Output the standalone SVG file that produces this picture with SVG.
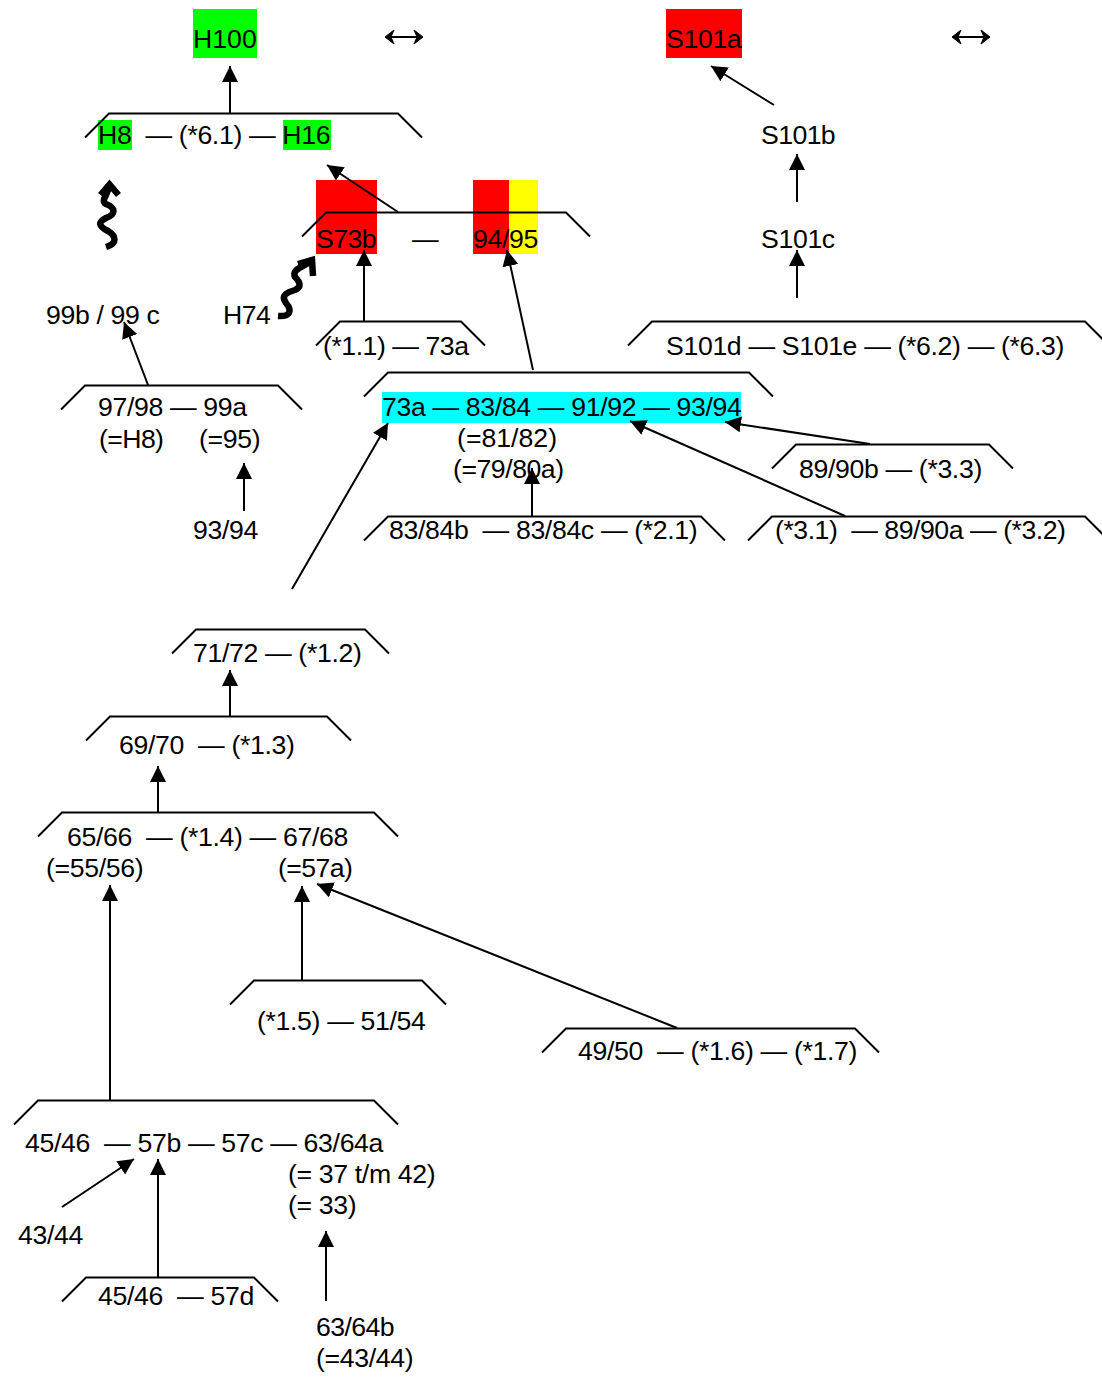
<svg xmlns="http://www.w3.org/2000/svg" width="1102" height="1380" viewBox="0 0 1102 1380">
<style>
text{font-family:"Liberation Sans",Arial,sans-serif;font-size:26.67px;fill:#000;white-space:pre;letter-spacing:-.35px}
.n{letter-spacing:0}
.s{letter-spacing:-.6px}
.m{letter-spacing:-.47px}
.t{fill:none;stroke:#000;stroke-width:2;transform:translate(0,.5px)}
.a{fill:none;stroke:#000;stroke-width:2;marker-end:url(#h)}
.d{fill:none;stroke:#000;stroke-width:2}
.b{fill:#000;stroke:#000;stroke-width:1;stroke-linejoin:round}
.w{fill:none;stroke:#000;stroke-width:6.500}
</style>
<defs>
<marker id="h" markerUnits="userSpaceOnUse" markerWidth="18" markerHeight="18" refX="16" refY="8" orient="auto"><path d="M0 0L16 8L0 16Z" fill="#000"/></marker>
</defs>
<rect width="1102" height="1380" fill="#fff"/>
<g id="fills">
<rect x="193" y="9" width="64" height="49" fill="#0f0"/>
<rect x="666" y="9" width="76" height="49" fill="#f00"/>
<rect x="98" y="120" width="34" height="30" fill="#0f0"/>
<rect x="283" y="120" width="48" height="30" fill="#0f0"/>
<rect x="316" y="180" width="61" height="74" fill="#f00"/>
<rect x="473" y="180" width="36" height="74" fill="#f00"/>
<rect x="509" y="180" width="29" height="74" fill="#ff0"/>
<rect x="382" y="392" width="359" height="31" fill="#0ff"/>
</g>
<g id="connectors">
<path class="a" d="M230 113L230 66"/>
<path class="a" d="M774 105L711 66"/>
<path class="a" d="M797 202L797 154"/>
<path class="a" d="M797 298L797 250"/>
<path class="a" d="M398 212L327 165"/>
<path class="a" d="M364 321L364 250"/>
<path class="a" d="M533 370L507 250"/>
<path class="a" d="M148 385L124 322"/>
<path class="a" d="M244 511L244 463"/>
<path class="a" d="M870 444L725 422"/>
<path class="a" d="M845 516L630 421"/>
<path class="a" d="M532 516L532 468"/>
<path class="a" d="M292 589L388 423"/>
<path class="a" d="M230 716L230 670"/>
<path class="a" d="M158 812L158 766"/>
<path class="a" d="M110 1100L110 885"/>
<path class="a" d="M302 980L302 886"/>
<path class="a" d="M677 1028L317 884"/>
<path class="a" d="M158 1277L158 1159"/>
<path class="a" d="M62 1207L134 1159"/>
<path class="a" d="M326 1301L326 1231"/>
<path class="d" d="M388 37H420"/>
<path class="b" d="M385 37L394 30L391 37L394 44Z"/>
<path class="b" d="M423 37L414 30L417 37L414 44Z"/>
<path class="d" d="M955 37H987"/>
<path class="b" d="M952 37L961 30L958 37L961 44Z"/>
<path class="b" d="M990 37L981 30L984 37L981 44Z"/>
<path class="w" d="M106 247C118 243 116 236 108 231C98 226 98 222 106 218C116 214 116 208 106 204C100 200 108 196 109 186"/>
<path class="w" d="M100.500 195L109.500 184.500L118.500 195"/>
<path class="w" d="M278 316C291 317 292 310 286 303C280 295 288 292 295 290C302 287 300 282 295 277C292 270 300 268 310 262"/>
<path class="w" d="M298 264L312 260L313 276"/>
</g>
<g id="n-h100"><text class="n" x="193" y="48">H100</text></g>
<g id="n-s101a"><text x="666" y="48">S101a</text></g>
<g id="n-h8"><polyline class="t" points="85,137 109,113 398,113 422,137"/><text x="98" y="144">H8  — (*6.1) — H16</text></g>
<g id="n-s101b"><text class="s" x="761" y="144">S101b</text></g>
<g id="n-s73b"><polyline class="t" points="302,236 326,212 566,212 590,236"/><text class="s" x="316" y="248">S73b</text><text x="412" y="248">—</text><text x="473" y="248">94/95</text></g>
<g id="n-s101c"><text x="761" y="248">S101c</text></g>
<g id="n-99b"><text x="46" y="324">99b / 99 c</text></g>
<g id="n-h74"><text class="s" x="223" y="324">H74</text></g>
<g id="n-11"><polyline class="t" points="316,345 340,321 461,321 485,345"/><text class="m" x="323" y="355">(*1.1) — 73a</text></g>
<g id="n-s101d"><polyline class="t" points="628,345 652,321 1085,321 1109,345"/><text x="666" y="355">S101d — S101e — (*6.2) — (*6.3)</text></g>
<g id="n-97"><polyline class="t" points="61,409 85,385 278,385 302,409"/><text x="98" y="416">97/98 — 99a</text><text class="s" x="99" y="448">(=H8)</text><text x="199" y="448">(=95)</text></g>
<g id="n-73a"><polyline class="t" points="364,396 388,372 749,372 773,396"/><text x="382" y="416">73a — 83/84 — 91/92 — 93/94</text><text class="n" x="457" y="447">(=81/82)</text><text class="m" x="453" y="478">(=79/80a)</text></g>
<g id="n-89b"><polyline class="t" points="772,468 796,444 989,444 1013,468"/><text x="799" y="478">89/90b — (*3.3)</text></g>
<g id="n-9394"><text x="193" y="539">93/94</text></g>
<g id="n-83"><polyline class="t" points="364,540 388,516 701,516 725,540"/><text x="389" y="539">83/84b  — 83/84c — (*2.1)</text></g>
<g id="n-31"><polyline class="t" points="748,540 772,516 1085,516 1109,540"/><text class="m" x="775" y="539">(*3.1)  — 89/90a — (*3.2)</text></g>
<g id="n-71"><polyline class="t" points="172,653 196,629 365,629 389,653"/><text x="193" y="662">71/72 — (*1.2)</text></g>
<g id="n-69"><polyline class="t" points="86,740 110,716 327,716 351,740"/><text x="119" y="754">69/70  — (*1.3)</text></g>
<g id="n-65"><polyline class="t" points="38,836 62,812 374,812 398,836"/><text x="67" y="846">65/66  — (*1.4) — 67/68</text><text x="46" y="877">(=55/56)</text><text class="s" x="278" y="877">(=57a)</text></g>
<g id="n-15"><polyline class="t" points="230,1004 254,980 422,980 446,1004"/><text x="257" y="1030">(*1.5) — 51/54</text></g>
<g id="n-49"><polyline class="t" points="542,1052 566,1028 855,1028 879,1052"/><text x="578" y="1060">49/50  — (*1.6) — (*1.7)</text></g>
<g id="n-45"><polyline class="t" points="14,1124 38,1100 374,1100 398,1124"/><text x="25" y="1152">45/46  — 57b — 57c — 63/64a</text><text x="288" y="1183">(= 37 t/m 42)</text><text x="288" y="1214">(= 33)</text></g>
<g id="n-43"><text x="18" y="1244">43/44</text></g>
<g id="n-45b"><polyline class="t" points="62,1301 86,1277 254,1277 278,1301"/><text x="98" y="1305">45/46  — 57d</text></g>
<g id="n-63"><text class="s" x="316" y="1336">63/64b</text><text x="316" y="1367">(=43/44)</text></g>
</svg>
